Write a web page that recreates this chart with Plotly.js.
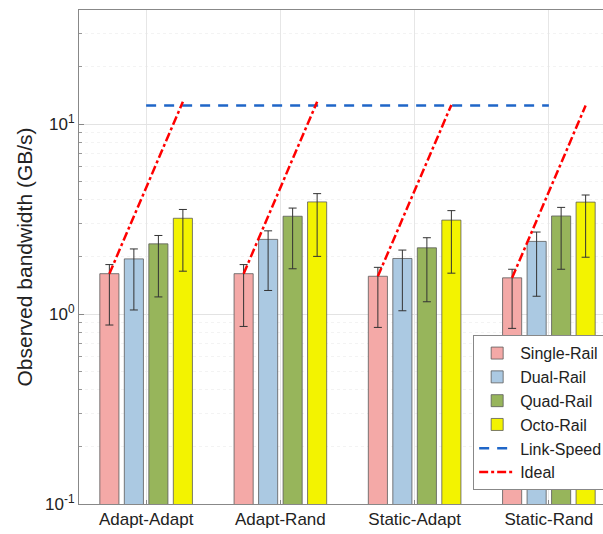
<!DOCTYPE html>
<html>
<head>
<meta charset="utf-8">
<script src="https://cdn.plot.ly/plotly-3.0.1.min.js"></script>
<style>
html,body{margin:0;padding:0;overflow:hidden;background:#fff;}
#chart{width:620px;height:534px;}
</style>
</head>
<body>
<div id="chart"></div>
<script>
const categories = ['Adapt-Adapt', 'Adapt-Rand', 'Static-Adapt', 'Static-Rand'];
const seriesNames = ['Single-Rail', 'Dual-Rail', 'Quad-Rail', 'Octo-Rail'];

const singleRail = [1.63, 1.63, 1.58, 1.55];
const singleTop  = [1.82, 1.82, 1.76, 1.72];
const singleBot  = [0.875, 0.86, 0.85, 0.84];

const dualRail = [1.95, 2.47, 1.96, 2.41];
const dualTop  = [2.20, 2.74, 2.17, 2.70];
const dualBot  = [1.05, 1.33, 1.04, 1.24];

const quadRail = [2.34, 3.27, 2.23, 3.28];
const quadTop  = [2.59, 3.61, 2.52, 3.64];
const quadBot  = [1.23, 1.73, 1.16, 1.72];

const octoRail = [3.19, 3.89, 3.12, 3.88];
const octoTop  = [3.55, 4.30, 3.50, 4.23];
const octoBot  = [1.68, 2.01, 1.64, 1.99];

const linkSpeed = 12.5;
const idealStart = [1.63, 1.63, 1.58, 1.55];
const idealEnd   = [13.1, 13.1, 12.6, 12.5];

const yTickVals = [0.1, 1, 10];
const yTickText = ['10<sup>-1</sup>', '10<sup>0</sup>', '10<sup>1</sup>'];
const yMinorVals = [0.2, 0.3, 0.4, 0.5, 0.6, 0.7, 0.8, 0.9, 2, 3, 4, 5, 6, 7, 8, 9, 20, 30];

const colors = ['#F4A9A7', '#ABC9E2', '#97B55B', '#F3F300'];
const BARGAP = 0.27, GROUPGAP = 0.22, NSER = 4;
const slot = (1 - BARGAP) / NSER;

const xIdx = categories.map((c, i) => i);
const vals = [singleRail, dualRail, quadRail, octoRail];
const tops = [singleTop, dualTop, quadTop, octoTop];
const bots = [singleBot, dualBot, quadBot, octoBot];

const traces = vals.map((v, k) => ({
  type: 'bar', name: seriesNames[k], x: xIdx, y: v,
  marker: {color: colors[k], line: {color: '#5a5a5a', width: 0.8}},
  error_y: {type: 'data', symmetric: false,
    array: tops[k].map((t, i) => t - v[i]),
    arrayminus: bots[k].map((b, i) => v[i] - b),
    color: '#333', thickness: 1, width: 4},
  legendrank: k + 1
}));

traces.push({
  type: 'scatter', mode: 'lines', name: 'Link-Speed',
  x: [0, categories.length - 1], y: [linkSpeed, linkSpeed],
  line: {color: '#1F66C8', width: 2.5, dash: '10px,8px'}, legendrank: 5
});

const ix = [], iy = [];
categories.forEach((c, i) => {
  ix.push(i - 1.5 * slot, i + 1.5 * slot, null);
  iy.push(idealStart[i], idealEnd[i], null);
});
traces.push({
  type: 'scatter', mode: 'lines', name: 'Ideal', x: ix, y: iy,
  connectgaps: false,
  line: {color: '#FF0000', width: 2.5, dash: 'dashdot'}, legendrank: 6
});

const layout = {
  width: 620, height: 534,
  margin: {l: 79, r: 4, t: 10, b: 30},
  paper_bgcolor: '#fff', plot_bgcolor: '#fff',
  font: {family: 'Liberation Sans, Arial, sans-serif', color: '#222'},
  barmode: 'group', bargap: BARGAP, bargroupgap: GROUPGAP,
  showlegend: true,
  legend: {x: 0.734, xanchor: 'left', y: 0.028, yanchor: 'bottom',
    bgcolor: '#fff', bordercolor: '#888', borderwidth: 1,
    font: {size: 16, color: '#222'}, itemwidth: 36, traceorder: 'normal'},
  xaxis: {
    range: [-0.5, 3.5], tickmode: 'array', tickvals: xIdx, ticktext: categories,
    showgrid: true, gridcolor: '#e6e6e6', zeroline: false,
    showline: true, mirror: true, linecolor: '#888', linewidth: 1,
    ticks: 'inside', ticklen: 4, tickcolor: '#888',
    tickfont: {size: 17, color: '#222'}, automargin: false
  },
  yaxis: {
    type: 'log', range: [-1, 1.6], tickmode: 'array', tickvals: yTickVals, ticktext: yTickText,
    showgrid: true, gridcolor: '#e3e3e3', zeroline: false,
    showline: true, mirror: true, linecolor: '#888', linewidth: 1,
    ticks: 'inside', ticklen: 5, tickcolor: '#888',
    tickfont: {size: 17, color: '#222'},
    minor: {tickmode: 'array', tickvals: yMinorVals, ticks: 'inside', ticklen: 3, tickcolor: '#999',
      showgrid: true, gridcolor: '#f3f3f3', griddash: 'dot'},
    title: {text: 'Observed bandwidth (GB/s)', font: {size: 21, color: '#222'}, standoff: 6},
    automargin: false
  }
};

Plotly.newPlot('chart', traces, layout, {displayModeBar: false, staticPlot: true});
</script>
</body>
</html>
